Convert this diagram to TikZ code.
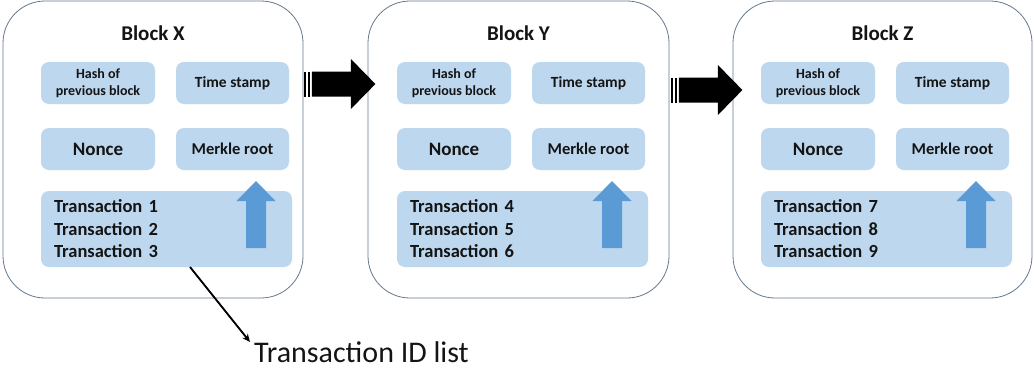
\documentclass[tikz,border=0pt]{standalone}
\usepackage{fontspec}
\setmainfont{Carlito}
\usetikzlibrary{arrows.meta,calc}
\definecolor{cellblue}{RGB}{189,215,238}
\definecolor{arrowblue}{RGB}{91,155,213}
\definecolor{frameline}{RGB}{100,120,142}
\definecolor{inktext}{RGB}{20,20,20}
\tikzset{
  blockframe/.style={draw=frameline,line width=0.8pt,rounded corners=42pt,fill=white,
    minimum height=297pt,inner sep=0pt},
  cell/.style={fill=cellblue,rounded corners=8pt,inner sep=0pt,font=\bfseries,
    text=inktext,align=center,minimum height=42pt},
  txcell/.style={fill=cellblue,rounded corners=8pt,inner xsep=13pt,inner ysep=0pt,
    font=\fontsize{18.5}{22.5}\selectfont\bfseries,text=inktext,align=left,
    minimum width=251pt,text width=225pt,minimum height=76pt},
  blocktitle/.style={font=\fontsize{21}{25}\selectfont\bfseries,text=inktext,inner sep=0pt},
  upflow/.style={fill=arrowblue,draw=none},
  chainfill/.style={fill=black,draw=none},
  chainarrow/.pic={
    \fill[chainfill] (0,-12.5) rectangle (2.5,12.5);
    \fill[chainfill] (3.6,-12.5) rectangle (6.1,12.5);
    \fill[chainfill] (8,-12.5) -- (47,-12.5) -- (47,-25) -- (71.5,0)
      -- (47,25) -- (47,12.5) -- (8,12.5) -- cycle;
  }
}
\begin{document}
\begin{tikzpicture}[x=1pt,y=-1pt]
\useasboundingbox (0,0) rectangle (1034,370);

% three blocks: name / frame left / frame right / content left / transaction numbers
\foreach \n/\fl/\fr/\o/\ta/\tb/\tc in {X/3/303/41/1/2/3, Y/368/669/397/4/5/6, Z/733/1032/761/7/8/9}{
  \pgfmathsetmacro{\fw}{\fr-\fl}
  \pgfmathsetmacro{\fc}{(\fl+\fr)/2}
  \node[blockframe,minimum width=\fw pt] (frame\n) at (\fc,149.5) {};
  \node[blocktitle] (title\n) at (\fc,33) {Block \n};
  \node[cell,minimum width=114pt,font=\fontsize{14}{17.5}\selectfont\bfseries]
    (hash\n) at (\o+57,83) {Hash of\\previous block};
  \node[cell,minimum width=113pt,font=\fontsize{15.5}{19}\selectfont\bfseries]
    (time\n) at (\o+191.5,83) {Time stamp};
  \node[cell,minimum width=114pt,font=\fontsize{19}{22}\selectfont\bfseries]
    (nonce\n) at (\o+57,149) {Nonce};
  \node[cell,minimum width=113pt,font=\fontsize{16.5}{19}\selectfont\bfseries]
    (merkle\n) at (\o+191.5,149) {Merkle root};
  \node[txcell] (tx\n) at (\o+125.5,229)
    {Transaction \ta\\Transaction \tb\\Transaction \tc};
  % upward arrow from the transactions to the Merkle root
  \fill[upflow] (\o+215,181) -- (\o+234.5,201) -- (\o+225,201) -- (\o+225,248)
    -- (\o+205,248) -- (\o+205,201) -- (\o+195.5,201) -- cycle;
}

% chain links between consecutive blocks
\pic at ($(frameX.east |- 0,84)+(0.5,0)$) {chainarrow};
\pic at ($(frameY.east |- 0,90)+(1.5,0)$) {chainarrow};

% callout for the transaction list
\node[font=\fontsize{30}{36}\selectfont,text=inktext,inner sep=0pt,anchor=base west]
  (tidlist) at (254,362) {Transaction ID list};
\coordinate (tidstart) at (190,267);
\draw[line width=1.8pt,-{Stealth[length=8pt,width=7pt]}] (tidstart) -- (250,342);
\end{tikzpicture}
\end{document}
